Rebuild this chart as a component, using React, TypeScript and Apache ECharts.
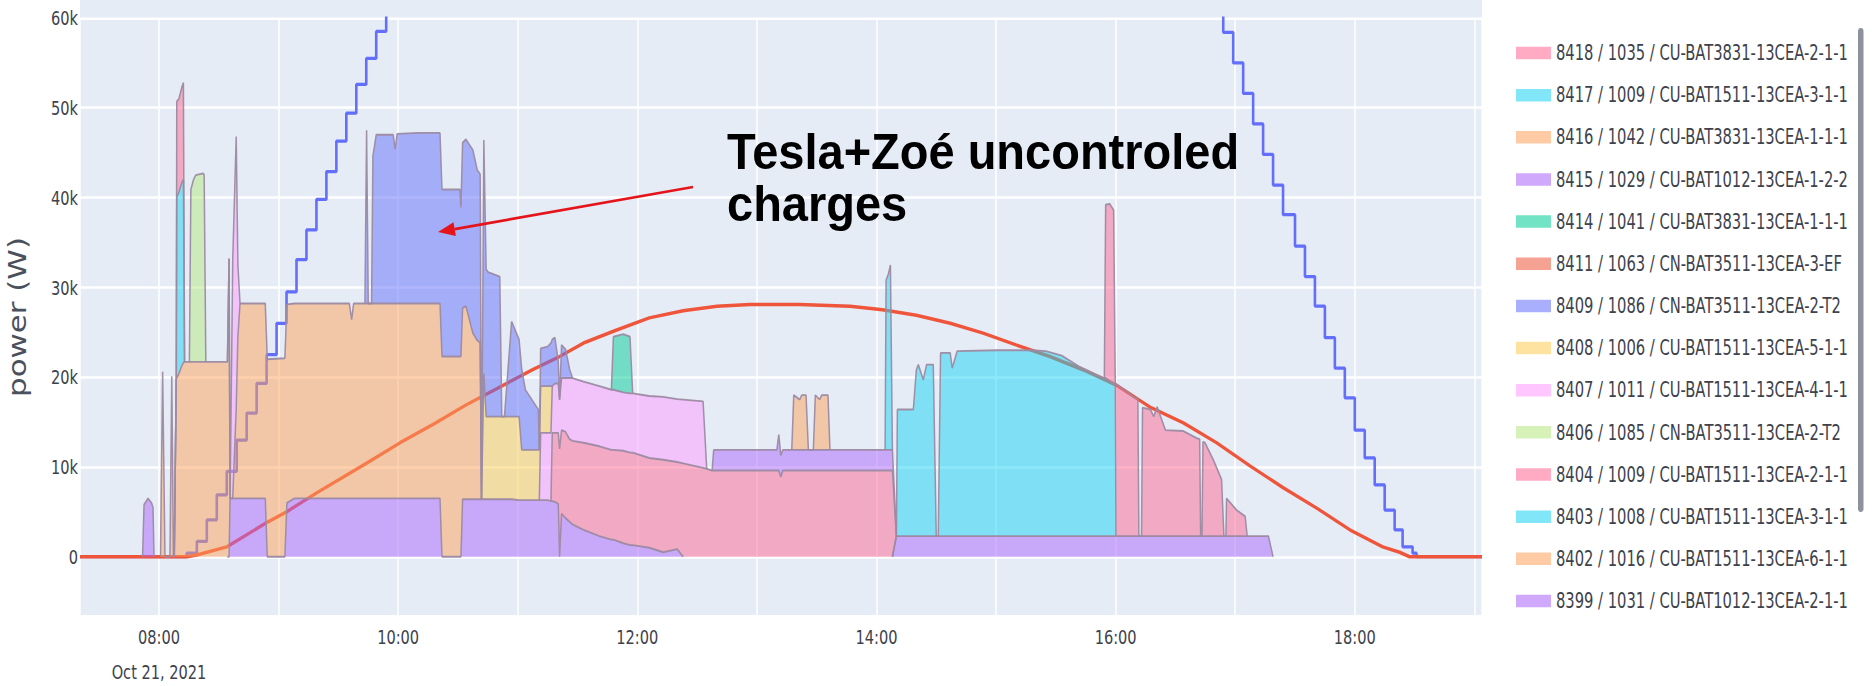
import React, { useEffect, useRef } from "react";
import * as echarts from "echarts";

type Pt = [string, number];

// ---------- axis / label data ----------
const X_START = "07:20:22";
const X_END = "19:03:50";
const Y_MIN = -6600;
const Y_MAX = 60000;
const Y_STEP = 10000;
const X_STEP_MS = 2 * 3600 * 1000;
const DATE_LABEL = "Oct 21, 2021";
const Y_TITLE = "power (W)";
const NOTE = "Tesla+Zoé uncontroled\ncharges";

// stacked series, bottom of the stack first
const names = [
  "8399 / 1031 / CU-BAT1012-13CEA-2-1-1",
  "8402 / 1016 / CU-BAT1511-13CEA-6-1-1",
  "8403 / 1008 / CU-BAT1511-13CEA-3-1-1",
  "8404 / 1009 / CU-BAT1511-13CEA-2-1-1",
  "8406 / 1085 / CN-BAT3511-13CEA-2-T2",
  "8407 / 1011 / CU-BAT1511-13CEA-4-1-1",
  "8408 / 1006 / CU-BAT1511-13CEA-5-1-1",
  "8409 / 1086 / CN-BAT3511-13CEA-2-T2",
  "8411 / 1063 / CN-BAT3511-13CEA-3-EF",
  "8414 / 1041 / CU-BAT3831-13CEA-1-1-1",
  "8415 / 1029 / CU-BAT1012-13CEA-1-2-2",
  "8416 / 1042 / CU-BAT3831-13CEA-1-1-1",
  "8417 / 1009 / CU-BAT1511-13CEA-3-1-1",
  "8418 / 1035 / CU-BAT3831-13CEA-2-1-1",
];
const colors = [
  "#ab63fa", "#ffa15a", "#19d3f3", "#ff6692", "#b6e880", "#ff97ff", "#fecb52",
  "#636efa", "#ef553b", "#00cc96", "#ab63fa", "#ffa15a", "#19d3f3", "#ff6692",
];

// ---------- charging power per station (W); times not listed = no data ----------
const p8399: Pt[] = [
  ["07:51:45", 0], ["07:52:30", 5800], ["07:54:30", 6500], ["07:56:15", 6000], ["07:57:00", 5500], ["07:57:30", 0],
  ["08:34:20", 0], ["08:35:10", 0], ["08:35:40", 6500], ["08:37:00", 6500], ["08:38:45", 6500], ["08:39:35", 6500], ["08:40:40", 6500],
  ["08:53:20", 6500], ["08:54:20", 0], ["09:03:10", 0], ["09:04:10", 6000], ["09:08:00", 6500], ["09:35:30", 6500], ["09:36:40", 6500], ["09:37:40", 6500],
  ["09:43:20", 6500], ["09:44:10", 6500], ["09:45:00", 6500], ["09:46:40", 6500], ["09:47:20", 6500], ["09:49:00", 6500], ["09:57:30", 6500],
  ["09:58:30", 6500], ["09:59:30", 6500], ["10:10:00", 6500], ["10:21:00", 6500],
  ["10:22:00", 0], ["10:31:00", 0], ["10:31:30", 0], ["10:32:20", 6400], ["10:34:00", 6400], ["10:37:30", 6400], ["10:39:40", 6400],
  ["10:41:10", 6400], ["10:41:50", 6400], ["10:43:00", 6400], ["10:44:10", 6400], ["10:45:10", 6400], ["10:51:00", 6400], ["10:52:00", 6400],
  ["10:53:20", 6400], ["10:56:55", 6400], ["11:00:40", 6300], ["11:02:00", 6300], ["11:03:50", 6300], ["11:10:20", 6300], ["11:10:50", 6300],
  ["11:11:30", 6300], ["11:15:00", 6300], ["11:16:40", 6200], ["11:17:20", 6200], ["11:18:40", 6100], ["11:20:20", 5900], ["11:21:00", 0],
  ["11:22:00", 4800], ["11:24:00", 4300], ["11:26:00", 3900], ["11:27:30", 3600], ["11:33:00", 3000], ["11:41:00", 2300], ["11:47:00", 1900],
  ["11:48:00", 1900], ["11:53:00", 1500], ["11:56:20", 1300], ["11:57:40", 1300], ["12:06:00", 1000], ["12:13:00", 500], ["12:20:00", 850],
  ["12:23:00", 0],
  ["14:08:00", 0], ["14:10:00", 2300], ["14:10:30", 2300], ["14:18:30", 2300], ["14:20:00", 2300], ["14:21:00", 2300], ["14:23:30", 2300],
  ["14:25:10", 2300], ["14:28:30", 2300], ["14:30:00", 2300], ["14:31:00", 2300], ["14:32:10", 2300], ["14:37:00", 2300], ["14:38:00", 2300],
  ["14:40:30", 2300], ["15:00:00", 2300], ["15:18:00", 2300], ["15:25:00", 2300], ["15:33:00", 2300], ["15:41:30", 2300], ["15:50:00", 2300],
  ["15:54:20", 2300], ["15:55:00", 2300], ["15:57:00", 2300], ["15:59:00", 2300], ["15:59:50", 2300], ["16:00:10", 2300], ["16:05:30", 2300],
  ["16:09:40", 2300], ["16:11:10", 2300], ["16:11:40", 2300], ["16:13:00", 2300], ["16:13:30", 2300], ["16:17:30", 2300], ["16:19:05", 2300],
  ["16:20:50", 2300], ["16:25:00", 2300], ["16:34:00", 2300], ["16:40:40", 2300], ["16:42:10", 2300], ["16:42:40", 2300], ["16:43:20", 2300],
  ["16:43:50", 2300], ["16:44:50", 2300], ["16:49:00", 2300], ["16:53:10", 2300], ["16:54:20", 2300], ["16:55:20", 2300], ["16:55:40", 2300],
  ["17:00:40", 2300], ["17:05:00", 2300], ["17:06:00", 2300], ["17:16:40", 2300], ["17:19:00", 0],
];
const p8402: Pt[] = [
  ["08:00:45", 0], ["08:01:50", 20600], ["08:03:00", 0], ["08:05:30", 0], ["08:06:25", 20100], ["08:07:15", 0], ["08:07:40", 0],
  ["08:08:40", 19800], ["08:08:55", 19900], ["08:10:00", 20400], ["08:11:30", 21300], ["08:12:15", 21600], ["08:12:50", 21700],
  ["08:15:15", 21700], ["08:16:00", 21700], ["08:17:20", 21700], ["08:18:25", 21700], ["08:22:10", 21700], ["08:22:40", 21700], ["08:23:30", 21700],
  ["08:34:20", 21700], ["08:35:10", 33200], ["08:35:40", 0], ["08:37:00", 0], ["08:38:45", 10000], ["08:39:35", 18000], ["08:40:40", 21700],
  ["08:53:20", 21700], ["08:54:20", 22000], ["09:03:10", 22100], ["09:04:10", 22100], ["09:08:00", 21700], ["09:35:30", 21700], ["09:36:40", 19900],
  ["09:37:40", 21700], ["09:43:20", 21700], ["09:44:10", 21700], ["09:45:00", 21700], ["09:46:40", 21700], ["09:47:20", 21700], ["09:49:00", 21700],
  ["09:57:30", 21700], ["09:58:30", 21700], ["09:59:30", 21700], ["10:10:00", 21700], ["10:21:00", 21700], ["10:22:00", 22300], ["10:31:00", 22300],
  ["10:31:30", 22300], ["10:32:20", 21300], ["10:34:00", 21500], ["10:37:30", 18500], ["10:39:40", 17700], ["10:41:10", 17400], ["10:41:50", 0],
];
const p8403: Pt[] = [
  ["14:08:00", 0], ["14:10:00", 0], ["14:10:30", 14100], ["14:18:30", 14100], ["14:20:00", 18500], ["14:21:00", 19100], ["14:23:30", 17400],
  ["14:25:10", 19100], ["14:28:30", 19100], ["14:30:00", 0], ["14:31:00", 0], ["14:32:10", 20400], ["14:37:00", 20400], ["14:38:00", 18700],
  ["14:40:30", 20600], ["15:00:00", 20700], ["15:18:00", 20700], ["15:25:00", 20600], ["15:33:00", 20100], ["15:41:30", 18900], ["15:50:00", 18000],
  ["15:54:20", 17600], ["15:55:00", 17600], ["15:57:00", 17300], ["15:59:00", 17000], ["15:59:50", 17000], ["16:00:10", 0],
];
const p8404: Pt[] = [
  ["11:16:40", 0], ["11:17:20", 7600], ["11:18:40", 7700], ["11:20:20", 7900], ["11:21:00", 12000], ["11:22:00", 9300], ["11:24:00", 9600],
  ["11:26:00", 9200], ["11:27:30", 9300], ["11:33:00", 9700], ["11:41:00", 10000], ["11:47:00", 10000], ["11:48:00", 10000], ["11:53:00", 10300],
  ["11:56:20", 10300], ["11:57:40", 10300], ["12:06:00", 10000], ["12:13:00", 10300], ["12:20:00", 9700], ["12:23:00", 10400], ["12:33:00", 9900],
  ["12:34:50", 9800], ["12:37:30", 9600], ["12:38:20", 9600], ["13:10:00", 9600], ["13:11:00", 9600], ["13:12:00", 8900], ["13:13:00", 9600],
  ["13:17:30", 9600], ["13:18:30", 9600], ["13:21:30", 9600], ["13:22:30", 9600], ["13:24:40", 9600], ["13:25:50", 9600], ["13:28:20", 9600],
  ["13:29:20", 9600], ["13:31:30", 9600], ["13:32:30", 9600], ["13:35:40", 9600], ["13:36:40", 9600], ["14:04:20", 9600], ["14:04:50", 9600],
  ["14:06:00", 9600], ["14:07:00", 9600], ["14:08:00", 9600], ["14:10:00", 0],
  ["15:59:50", 0], ["16:00:10", 17000], ["16:05:30", 16100], ["16:09:40", 15400], ["16:11:10", 15300], ["16:11:40", 0], ["16:13:00", 0],
  ["16:13:30", 14300], ["16:17:30", 14100], ["16:19:05", 13300], ["16:20:50", 14400], ["16:25:00", 11800], ["16:34:00", 11700], ["16:40:40", 10900],
  ["16:42:10", 10800], ["16:42:40", 0], ["16:43:20", 0], ["16:43:50", 10500], ["16:44:50", 10400], ["16:49:00", 8500], ["16:53:10", 6300],
  ["16:54:20", 0], ["16:55:20", 0], ["16:55:40", 4200], ["17:00:40", 2900], ["17:05:00", 2200], ["17:06:00", 0],
];
const p8406: Pt[] = [
  ["08:15:15", 0], ["08:16:00", 19200], ["08:17:20", 20300], ["08:18:25", 20800], ["08:22:10", 21000], ["08:22:40", 20800], ["08:23:30", 0],
];
const p8407: Pt[] = [
  ["08:34:20", 0], ["08:35:10", 0], ["08:35:40", 0], ["08:37:00", 26500], ["08:38:45", 30300], ["08:39:35", 8000], ["08:40:40", 0],
  ["11:10:50", 0], ["11:11:30", 7500], ["11:15:00", 7500], ["11:16:40", 7600], ["11:17:20", 5200], ["11:18:40", 5500], ["11:20:20", 5500],
  ["11:21:00", 5500], ["11:22:00", 5800], ["11:24:00", 6000], ["11:26:00", 6800], ["11:27:30", 7000], ["11:33:00", 6800], ["11:41:00", 6700],
  ["11:47:00", 6700], ["11:48:00", 6700], ["11:53:00", 6500], ["11:56:20", 6600], ["11:57:40", 6600], ["12:06:00", 6900], ["12:13:00", 7000],
  ["12:20:00", 7000], ["12:23:00", 7100], ["12:33:00", 7400], ["12:34:50", 0],
];
const p8408: Pt[] = [
  ["10:41:10", 0], ["10:41:50", 0], ["10:43:00", 14000], ["10:44:10", 9200], ["10:45:10", 9200], ["10:51:00", 9200], ["10:52:00", 9200],
  ["10:53:20", 9200], ["10:56:55", 9200], ["11:00:40", 9300], ["11:02:00", 5600], ["11:03:50", 5600], ["11:10:20", 5600], ["11:10:50", 5600],
  ["11:11:30", 5200], ["11:15:00", 5200], ["11:16:40", 5200], ["11:17:20", 0],
];
const p8409: Pt[] = [
  ["09:43:20", 0], ["09:44:10", 19300], ["09:45:00", 0], ["09:46:40", 0], ["09:47:20", 16400], ["09:49:00", 18800], ["09:57:30", 18800],
  ["09:58:30", 17200], ["09:59:30", 18900], ["10:10:00", 19000], ["10:21:00", 19000], ["10:22:00", 18600], ["10:31:00", 18600], ["10:31:30", 16600],
  ["10:32:20", 18400], ["10:34:00", 18600], ["10:37:30", 20400], ["10:39:40", 19000], ["10:41:10", 18800], ["10:41:50", 0], ["10:43:00", 26000],
  ["10:44:10", 16400], ["10:45:10", 16100], ["10:51:00", 15600], ["10:52:00", 0], ["10:53:20", 0], ["10:56:55", 10600], ["11:00:40", 8600],
  ["11:02:00", 9000], ["11:03:50", 6700], ["11:10:20", 4500], ["11:10:50", 0], ["11:11:30", 4200], ["11:15:00", 4400], ["11:16:40", 4800],
  ["11:17:20", 5200], ["11:18:40", 5100], ["11:20:20", 2500], ["11:21:00", 0], ["11:22:00", 3700], ["11:24:00", 3200], ["11:26:00", 1000],
  ["11:27:30", 0],
];
const p8411: Pt[] = [];
const p8414: Pt[] = [["11:47:00", 0], ["11:48:00", 5900], ["11:53:00", 6500], ["11:56:20", 6300], ["11:57:40", 0]];
const p8415: Pt[] = [
  ["12:37:30", 0], ["12:38:20", 2300], ["13:10:00", 2300], ["13:11:00", 4000], ["13:12:00", 2400], ["13:13:00", 2300], ["13:17:30", 2300],
  ["13:18:30", 2300], ["13:21:30", 2300], ["13:22:30", 2300], ["13:24:40", 2300], ["13:25:50", 2300], ["13:28:20", 2300], ["13:29:20", 2300],
  ["13:31:30", 2300], ["13:32:30", 2300], ["13:35:40", 2300], ["13:36:40", 2300], ["14:04:20", 2300], ["14:04:50", 2300], ["14:06:00", 2300],
  ["14:07:00", 2300], ["14:08:00", 2300], ["14:10:00", 0],
];
const p8416: Pt[] = [
  ["13:17:30", 0], ["13:18:30", 6100], ["13:21:30", 5600], ["13:22:30", 6100], ["13:24:40", 6100], ["13:25:50", 0],
  ["13:28:20", 0], ["13:29:20", 6100], ["13:31:30", 5600], ["13:32:30", 6100], ["13:35:40", 6100], ["13:36:40", 0],
];
const p8417: Pt[] = [
  ["08:07:40", 0], ["08:08:40", 0], ["08:08:55", 20200], ["08:10:00", 20200], ["08:11:30", 20400], ["08:12:15", 20400], ["08:12:50", 0],
  ["14:04:20", 0], ["14:04:50", 18900], ["14:06:00", 19600], ["14:07:00", 20600], ["14:08:00", 0],
];
const p8418: Pt[] = [
  ["08:07:40", 0], ["08:08:40", 0], ["08:08:55", 10600], ["08:10:00", 10400], ["08:11:30", 10600], ["08:12:15", 10800], ["08:12:50", 0],
  ["15:54:20", 0], ["15:55:00", 19300], ["15:57:00", 19700], ["15:59:00", 19300], ["15:59:50", 0],
];
const charging: Pt[][] = [p8399, p8402, p8403, p8404, p8406, p8407, p8408, p8409, p8411, p8414, p8415, p8416, p8417, p8418];

// blue stepped line (value holds from each time until the next); null = above the plot, not readable
const blueLine: [string, number | null][] = [
  ["07:20:22", 0], ["08:13:50", 400], ["08:19:00", 1700], ["08:24:00", 4100], ["08:29:00", 6900], ["08:34:00", 9500],
  ["08:39:00", 13000], ["08:44:00", 16000], ["08:49:00", 19300], ["08:54:00", 22500], ["08:59:00", 26000], ["09:04:00", 29500],
  ["09:09:00", 33100], ["09:14:00", 36400], ["09:19:00", 39800], ["09:24:00", 42900], ["09:29:00", 46300], ["09:34:00", 49400],
  ["09:39:00", 52600], ["09:44:00", 55500], ["09:49:00", 58500], ["09:54:00", 61600], ["09:55:00", null],
  ["16:53:00", 61800], ["16:54:00", 58400], ["16:59:00", 55000], ["17:04:00", 51600], ["17:09:00", 48200], ["17:14:00", 44800],
  ["17:19:00", 41400], ["17:24:00", 38100], ["17:30:00", 34600], ["17:35:00", 31200], ["17:40:00", 27900], ["17:45:00", 24400],
  ["17:50:00", 21000], ["17:55:00", 17700], ["18:00:00", 14100], ["18:05:00", 11000], ["18:10:00", 8000], ["18:15:00", 5200],
  ["18:20:00", 3000], ["18:24:00", 1100], ["18:29:00", 400], ["18:31:00", 0], ["19:03:50", 0],
];
// red curve
const redLine: Pt[] = [
  ["07:20:22", 0], ["08:14:00", 0], ["08:19:00", 200], ["08:34:00", 1100], ["08:54:00", 3800], ["09:04:00", 5000], ["09:19:00", 7100],
  ["09:44:00", 10400], ["10:01:00", 12700], ["10:18:00", 14800], ["10:34:00", 16900], ["10:51:00", 18900], ["11:08:00", 20900],
  ["11:21:00", 22300], ["11:33:00", 23800], ["11:49:00", 25200], ["12:06:00", 26600], ["12:23:00", 27400], ["12:40:00", 27900],
  ["12:56:30", 28100], ["13:21:30", 28100], ["13:46:40", 27900], ["14:03:00", 27500], ["14:20:00", 26900], ["14:37:00", 26000],
  ["14:53:30", 24900], ["15:10:00", 23600], ["15:27:00", 22300], ["15:43:50", 20800], ["16:00:30", 19100], ["16:17:00", 16700],
  ["16:34:00", 14900], ["16:50:40", 12700], ["17:07:30", 10100], ["17:24:00", 7700], ["17:41:00", 5400], ["17:57:30", 3000],
  ["18:14:00", 1100], ["18:22:30", 500], ["18:27:30", 0], ["19:03:50", 0],
];

// ---------- layout / style ----------
const W = 1872;
const H = 686;
const SY = 1.25; // the picture is stretched vertically
const TEXT = "#3d424c";
const OUTLINE = "#9c8aa2";
const PLOT_BG = "#e5ecf6";

const toMs = (t: string) => {
  const [h, m, s] = t.split(":").map(Number);
  return new Date(2021, 9, 21, h, m, s || 0).getTime();
};

function measure(font: string, text: string): number {
  const ctx = document.createElement("canvas").getContext("2d");
  if (!ctx) return 0;
  ctx.font = font;
  return ctx.measureText(text).width;
}
function hasFont(name: string): boolean {
  const probe = "mmmmmmmmmmlli10O/WXk";
  return measure("72px monospace", probe) !== measure(`72px "${name}", monospace`, probe);
}

function buildOption() {
  const narrow = hasFont("Liberation Sans Narrow")
    ? '"Liberation Sans Narrow", '
    : hasFont("DejaVu Sans Condensed")
    ? '"DejaVu Sans Condensed", '
    : "";
  const fam = `${narrow}"Liberation Sans", Arial, sans-serif`;
  const titleFam = '"DejaVu Sans", Verdana, sans-serif';
  const fit = (family: string, text: string, target: number, fallback: number) => {
    const w = measure(`100px ${family}`, text);
    return w > 0 ? (100 * target) / w : fallback;
  };
  const tickSize = fit(fam, "08:00", 42, 17);
  const legendSize = fit(fam, names[13], 292, 16);
  const titleSize = fit(titleFam, Y_TITLE, 160 / SY, 25);

  const gridMs = Array.from(new Set(charging.flatMap((p) => p.map((q) => toMs(q[0]))))).sort((a, b) => a - b);
  const areaSeries = names.map((name, i) => {
    const lookup = new Map(charging[i].map(([t, v]) => [toMs(t), v] as [number, number]));
    return {
      name,
      type: "line",
      stack: "power",
      data: gridMs.map((ms) => [ms, lookup.has(ms) ? lookup.get(ms) : null]),
      showSymbol: false,
      symbol: "none",
      connectNulls: false,
      color: colors[i],
      itemStyle: { color: colors[i] },
      lineStyle: { color: OUTLINE, width: 1.5, opacity: 0.95 },
      areaStyle: { color: colors[i], opacity: 0.5 },
      emphasis: { disabled: true },
      z: 3,
    };
  });

  const xMin = toMs(X_START);
  const firstTick = Math.ceil(xMin / X_STEP_MS) * X_STEP_MS;

  const gridTop = 18 / SY;
  const gridBottom = 616 / SY;

  return {
    animation: false,
    backgroundColor: "#ffffff",
    grid: {
      left: 80,
      top: gridTop,
      width: 1402,
      height: gridBottom - gridTop,
      show: true,
      backgroundColor: PLOT_BG,
      borderWidth: 0,
      containLabel: false,
      outerBoundsMode: "none",
    },
    xAxis: {
      type: "time",
      min: xMin,
      max: toMs(X_END),
      splitNumber: 6,
      minInterval: X_STEP_MS,
      maxInterval: X_STEP_MS,
      axisLine: { show: false },
      axisTick: { show: false },
      splitLine: { show: true, lineStyle: { color: "#ffffff", width: 1.5 } },
      axisLabel: {
        color: TEXT,
        fontSize: tickSize,
        fontFamily: fam,
        lineHeight: 28,
        margin: 3,
        formatter: (value: number) => {
          const d = new Date(value);
          if (d.getMinutes() !== 0 || d.getSeconds() !== 0 || d.getHours() % 2 !== 0) return "";
          const label = String(d.getHours()).padStart(2, "0") + ":00";
          return Math.abs(value - firstTick) < 1000 ? `${label}\n${DATE_LABEL}` : label;
        },
      },
    },
    yAxis: {
      type: "value",
      min: Y_MIN,
      max: Y_MAX,
      splitNumber: 7,
      minInterval: Y_STEP,
      maxInterval: Y_STEP,
      axisLine: { show: false },
      axisTick: { show: false },
      splitLine: { show: true, lineStyle: { color: "#ffffff", width: 2 } },
      axisLabel: {
        color: TEXT,
        fontSize: tickSize,
        fontFamily: fam,
        margin: 2,
        formatter: (v: number) => (v === 0 ? "0" : v % Y_STEP === 0 ? `${v / 1000}k` : ""),
      },
      name: Y_TITLE,
      nameLocation: "middle",
      nameRotate: 90,
      nameGap: 62 - titleSize / 2,
      nameTextStyle: { color: "#4a505c", fontSize: titleSize, fontFamily: titleFam, lineHeight: titleSize },
    },
    legend: {
      orient: "vertical",
      left: 1516,
      top: 42.4 - 10,
      padding: 0,
      itemWidth: 35,
      itemHeight: 10,
      itemGap: 42.15 / SY - 20,
      icon: "rect",
      selectedMode: false,
      textStyle: { color: TEXT, fontSize: legendSize, fontFamily: fam, lineHeight: 20 },
      data: names
        .map((name, i) => ({ name, itemStyle: { color: colors[i], opacity: 0.55 } }))
        .reverse(),
    },
    series: [
      {
        name: "trace A",
        type: "line",
        step: "end",
        data: blueLine.map(([t, v]) => [toMs(t), v]),
        showSymbol: false,
        symbol: "none",
        connectNulls: false,
        lineStyle: { color: "#636efa", width: 2.6 },
        emphasis: { disabled: true },
        z: 2,
      },
      {
        name: "trace B",
        type: "line",
        data: redLine.map(([t, v]) => [toMs(t), v]),
        showSymbol: false,
        symbol: "none",
        lineStyle: { color: "#ef553b", width: 2.8 },
        emphasis: { disabled: true },
        z: 2,
      },
      ...areaSeries,
    ],
    graphic: [
      { type: "rect", silent: true, z: -10, shape: { x: 80, y: 0, width: 1402, height: gridTop }, style: { fill: PLOT_BG } },
      { type: "rect", silent: true, shape: { x: 1858, y: 28 / SY, width: 5.5, height: 484 / SY, r: 2.75 }, style: { fill: "#8d929b" } },
      {
        type: "text",
        x: 727,
        y: 100.3,
        scaleY: 1.05 / SY,
        z: 100,
        style: {
          text: NOTE,
          fill: "#000000",
          fontSize: 47,
          fontWeight: "bold",
          fontFamily: '"Liberation Sans", Arial, sans-serif',
          lineHeight: 49.5,
          verticalAlign: "top",
          align: "left",
        },
      },
      {
        type: "line",
        z: 100,
        shape: { x1: 693, y1: 187 / SY, x2: 454.7, y2: 229.05 / SY },
        style: { stroke: "#e5141b", lineWidth: 2.2 },
      },
      {
        type: "polygon",
        z: 100,
        shape: { points: [[438, 232 / SY], [455.9, 235.9 / SY], [453.5, 222.2 / SY]] },
        style: { fill: "#e5141b" },
      },
    ],
  };
}

export default function App() {
  const ref = useRef<HTMLDivElement>(null);
  useEffect(() => {
    if (!ref.current) return;
    const chart = echarts.init(ref.current, undefined, { renderer: "svg" });
    chart.setOption(buildOption() as any);
    return () => chart.dispose();
  }, []);
  return (
    <div style={{ position: "fixed", left: 0, top: 0, width: W, height: H, overflow: "hidden", background: "#fff" }}>
      <div ref={ref} style={{ width: W, height: H / SY, transform: `scaleY(${SY})`, transformOrigin: "0 0" }} />
    </div>
  );
}
